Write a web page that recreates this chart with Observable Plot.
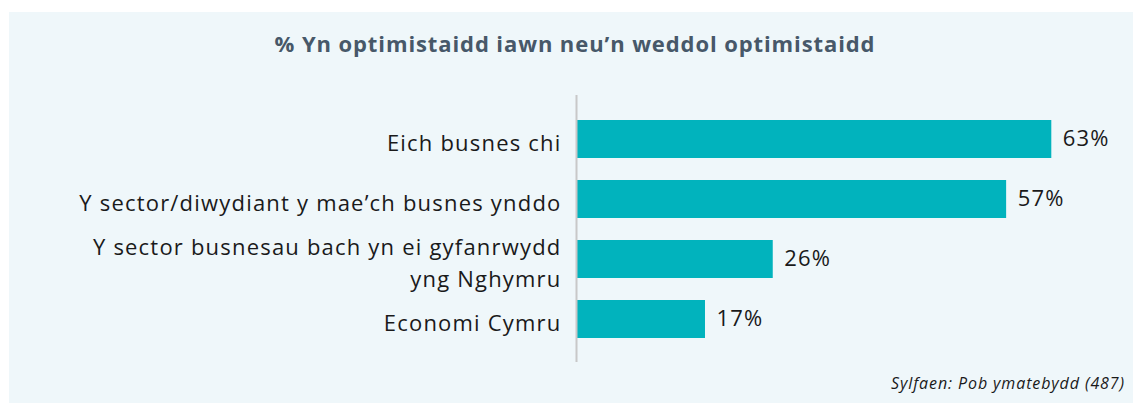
<!DOCTYPE html>
<html>
<head>
<meta charset="utf-8">
<script src="https://cdn.jsdelivr.net/npm/d3@7"></script>
<script src="https://cdn.jsdelivr.net/npm/@observablehq/plot@0.6"></script>
<style>
  html, body { margin: 0; padding: 0; background: #ffffff; width: 1133px; height: 403px; overflow: hidden; }
  #panel { position: absolute; left: 9px; top: 12px; width: 1124px; height: 391px; background: #eff7fa; }
  #title { position: absolute; left: 0; top: 28px; width: 1150px; text-align: center;
           font-family: "Open Sans", sans-serif; font-weight: 700; font-size: 22px; letter-spacing: 0.9px; color: #475869; }
  #chart { position: absolute; left: 0; top: 80px; }
  #caption { position: absolute; right: 8px; top: 372px; font-family: "Open Sans", sans-serif;
             font-style: italic; font-size: 16px; letter-spacing: 0.9px; color: #1a1a1a; }
</style>
</head>
<body>
<div id="panel"></div>
<div id="title">% Yn optimistaidd iawn neu’n weddol optimistaidd</div>
<div id="chart"></div>
<div id="caption">Sylfaen: Pob ymatebydd (487)</div>
<script>
const categories = [
  "Eich busnes chi",
  "Y sector/diwydiant y mae’ch busnes ynddo",
  "Y sector busnesau bach yn ei gyfanrwydd\nyng Nghymru",
  "Economi Cymru"
];
const values = [63, 57, 26, 17];
const valueLabels = ["63%", "57%", "26%", "17%"];

const data = categories.map((c, i) => ({cat: c, v: values[i], lab: valueLabels[i]}));
const font = "'Open Sans', sans-serif";

const chart = Plot.plot({
  width: 1133,
  height: 290,
  marginLeft: 577,
  marginRight: 29,
  marginTop: 15,
  marginBottom: 8,
  style: {background: "transparent", fontFamily: font, letterSpacing: "1.2px"},
  x: {domain: [0, 70], axis: null},
  y: {domain: categories, range: [10, 288], paddingInner: 0.3667, paddingOuter: 0.5, axis: null},
  marks: [
    Plot.barX(data, {x: "v", y: "cat", fill: "#01b3bd"}),
    Plot.ruleX([0], {stroke: "#c8c8c8", strokeWidth: 2, dx: -1}),
    Plot.text(data, {x: 0, y: "cat", text: "cat", dx: -16, dy: 1, textAnchor: "end",
      fontSize: 22, fill: "#1a1a1a", lineHeight: 1.45, fontFamily: font}),
    Plot.text(data, {x: "v", y: "cat", text: "lab", dx: 11, dy: -1, textAnchor: "start",
      fontSize: 22, fill: "#1a1a1a", fontFamily: font})
  ]
});
document.getElementById("chart").appendChild(chart);
</script>
</body>
</html>
